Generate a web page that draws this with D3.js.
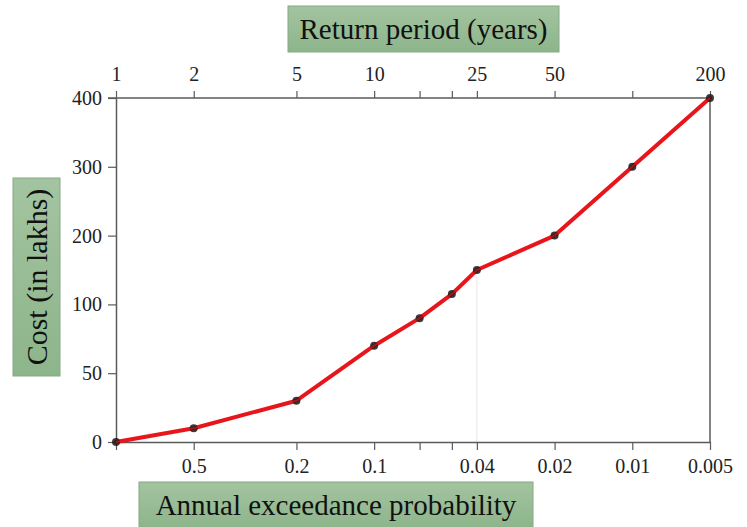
<!DOCTYPE html>
<html><head><meta charset="utf-8">
<script src="https://cdn.jsdelivr.net/npm/d3@7"></script>
<style>
html,body{margin:0;padding:0;background:#fff;}
svg{display:block;}
</style></head>
<body>
<svg id="chart" width="747" height="527"></svg>
<script>
// Data
const returnPeriods = [1, 2, 5, 10, 15, 20, 25, 50, 100, 200];
const costs = [0, 10, 30, 70, 90, 115, 150, 200, 300, 400];
const xTickValues = [1, 2, 5, 10, 15, 20, 25, 50, 100, 200];
const topTickLabels = ["1", "2", "5", "10", "", "", "25", "50", "", "200"];
const bottomTickLabels = ["", "0.5", "0.2", "0.1", "", "", "0.04", "0.02", "0.01", "0.005"];
const yTickValues = [0, 50, 100, 200, 300, 400];
const yTickLabels = ["0", "50", "100", "200", "300", "400"];

(function () {
const svg = d3.select("#chart");
const pLeft = 116, pRight = 710, pTop = 98, pBottom = 442;
const serif = "'Liberation Serif','DejaVu Serif',serif";
const axisColor = "#5a5a5a";

const x = d3.scaleLog().domain([1, 200]).range([pLeft, pRight]);
const step = (pBottom - pTop) / (yTickValues.length - 1);
const y = d3.scaleLinear().domain(yTickValues).range(yTickValues.map((d, i) => pBottom - i * step));

svg.append("line").attr("x1", pRight).attr("x2", pRight).attr("y1", pTop).attr("y2", pBottom)
  .attr("stroke", axisColor).attr("stroke-width", 1.5);
svg.append("line").attr("x1", x(25)).attr("x2", x(25)).attr("y1", y(140)).attr("y2", pBottom)
  .attr("stroke", "#e6e6e6").attr("stroke-width", 1);

function styleAxis(g) {
  g.selectAll("path").attr("stroke", axisColor).attr("stroke-width", 1.5);
  g.selectAll("line").attr("stroke", axisColor).attr("stroke-width", 1.2);
  g.selectAll("text").attr("font-family", serif).attr("font-size", 20).attr("fill", "#222");
}

const topAxis = d3.axisTop(x).tickValues(xTickValues)
  .tickFormat((d, i) => topTickLabels[i]).tickSizeInner(7).tickSizeOuter(0).tickPadding(10);
const gTop = svg.append("g").attr("transform", `translate(0,${pTop})`).call(topAxis);
styleAxis(gTop);
gTop.select("path").attr("d", `M${pLeft - 8},0H${pRight}`);

const bottomAxis = d3.axisBottom(x).tickValues(xTickValues)
  .tickFormat((d, i) => bottomTickLabels[i]).tickSizeInner(8).tickSizeOuter(0).tickPadding(9);
const gBot = svg.append("g").attr("transform", `translate(0,${pBottom})`).call(bottomAxis);
styleAxis(gBot);

const leftAxis = d3.axisLeft(y).tickValues(yTickValues)
  .tickFormat((d, i) => yTickLabels[i]).tickSizeInner(8).tickSizeOuter(0).tickPadding(6);
const gLeft = svg.append("g").attr("transform", `translate(${pLeft},0)`).call(leftAxis);
styleAxis(gLeft);

const line = d3.line().x((d, i) => x(returnPeriods[i])).y(d => y(d));
svg.append("path").datum(costs).attr("d", line)
  .attr("fill", "none").attr("stroke", "#e8161c").attr("stroke-width", 4)
  .attr("stroke-linejoin", "round").attr("stroke-linecap", "round");

svg.selectAll("circle.pt").data(costs).join("circle").attr("class", "pt")
  .attr("cx", (d, i) => x(returnPeriods[i])).attr("cy", d => y(d)).attr("r", 4)
  .attr("fill", "#1a1a1a").attr("opacity", 0.85);
svg.append("path").datum(costs).attr("d", line)
  .attr("fill", "none").attr("stroke", "#e8161c").attr("stroke-width", 2).attr("opacity", 0.6);

const defs = svg.append("defs");
const grad = defs.append("linearGradient").attr("id", "gbox").attr("x1", 0).attr("y1", 0).attr("x2", 0).attr("y2", 1);
grad.append("stop").attr("offset", "0%").attr("stop-color", "#a3c4a0");
grad.append("stop").attr("offset", "100%").attr("stop-color", "#8db58b");

function box(x0, y0, w, h, text, rotate, fs) {
  svg.append("rect").attr("x", x0).attr("y", y0).attr("width", w).attr("height", h)
    .attr("fill", "url(#gbox)").attr("stroke", "#86a886").attr("stroke-width", 1);
  const cx = x0 + w / 2, cy = y0 + h / 2;
  const t = svg.append("text").attr("x", cx).attr("y", cy)
    .attr("text-anchor", "middle").attr("dominant-baseline", "central")
    .attr("font-family", serif).attr("font-size", fs).attr("fill", "#111").text(text);
  if (rotate) t.attr("transform", `rotate(-90,${cx},${cy})`);
}
box(288, 6, 271, 46, "Return period (years)", false, 29);
box(139, 482, 394, 46, "Annual exceedance probability", false, 29);
box(13, 178, 47, 198, "Cost (in lakhs)", true, 30);
})();
</script>
</body></html>
